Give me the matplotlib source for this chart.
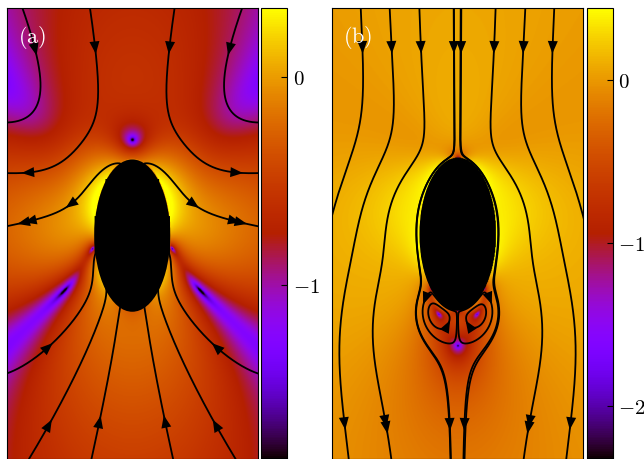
import numpy as np
import matplotlib
matplotlib.use("Agg")
import matplotlib.pyplot as plt
from matplotlib.patches import Ellipse, FancyArrowPatch

plt.rcParams["mathtext.fontset"] = "cm"
plt.rcParams["font.family"] = "serif"
plt.rcParams["font.serif"] = ["DejaVu Serif"]

# body shape
SEMI_AXES = (0.5, 1.0)      # ellipse half-width, half-height

# squirmer parameters per panel: swim speed, mode-2 strength, mode-2 decay, mode-4 strength
SWIM_A, STRESSLET_A, DECAY_A, MODE4_A = 1.0, 2.0, 1.15, 1.1
SWIM_B, STRESSLET_B, DECAY_B, MODE4_B = 1.0, 1.34, 1.2, -1.8
MAG_SCALE_A = 0.75

# panel ranges and colour limits (log10 |u|)
XLIM_A = (-1.65, 1.65)
YLIM_A = (-2.94, 2.99)
XLIM_B = (-1.65, 1.65)
YLIM_B = (-2.95, 2.97)
CLIM_A = (-1.84, 0.33)
CLIM_B = (-2.33, 0.44)
TICKS_A = [0, -1]
TICKS_B = [0, -1, -2]

# streamline seeds, panel (a) (lab frame)
SEED_X_A = [-1.43, -0.55, -0.53, -1.34, -1.60, 1.43, 0.55, 0.53, 1.34, 1.60]
SEED_Y_A = [2.94, 2.94, -2.90, -2.90, -1.79, 2.94, 2.94, -2.90, -2.90, -1.79]
# arrow heads, panel (a)
ARROW_X_A = [-1.17, -0.46, 0.46, 1.20, -1.38, -1.38, -1.37, -0.71,
             1.38, 1.38, 1.37, 0.71, -1.12, -0.45, 0.43, 1.13, -1.25, 1.25]
ARROW_Y_A = [2.45, 2.45, 2.45, 2.45, 0.57, 0.24, -0.21, 0.24,
             0.57, 0.24, -0.21, 0.24, -2.45, -2.42, -2.42, -2.45, -1.28, -1.28]

# streamline seeds, panel (b) (body frame)
SEED_X_B = [-1.27, -0.89, -0.50, -0.05, 0.05, 0.50, 0.89, 1.27,
            -0.43, 0.43, -0.125, 0.14, -0.10, 0.09]
SEED_Y_B = [2.93, 2.93, 2.93, 2.93, 2.93, 2.93, 2.93, 2.93,
            -0.86, -0.86, -1.18, -1.18, -2.51, -2.51]
# arrow heads, panel (b)
ARROW_X_B = [-1.28, -0.89, -0.51, -0.06, 0.06, 0.48, 0.88, 1.27,
             -1.59, -1.16, -0.69, -0.10, 0.09, 0.68, 1.15, 1.57,
             -0.43, 0.43, -0.125, 0.14]
ARROW_Y_B = [2.43] * 8 + [-2.51] * 8 + [-0.86, -0.86, -1.18, -1.18]

# conformal map z = zeta - K2/zeta takes the circle |zeta| = RAD to the ellipse
RAD = 0.5 * (SEMI_AXES[0] + SEMI_AXES[1])
K2 = RAD * 0.5 * (SEMI_AXES[1] - SEMI_AXES[0])


def mode(q, n, amp, p):
    # divergence-free radial/azimuthal profiles, no normal flow at q = 1
    f = amp * (q**p - q**(p + 2))
    g = -amp * ((1 - p) * q**p + (1 + p) * q**(p + 2)) / n
    return f, g


def velocity(x, y, body_frame, params):
    swim, stress, decay, m4 = params
    z = np.asarray(x + 1j * y, dtype=complex)
    root = np.sqrt(z * z + 4 * K2)
    z1 = 0.5 * (z + root)
    z2 = 0.5 * (z - root)
    zeta = np.where(np.abs(z1) >= np.abs(z2), z1, z2)
    r = np.maximum(np.abs(zeta), 1e-9)
    th = np.arctan2(zeta.real, zeta.imag)
    q = RAD / r
    f2, g2 = mode(q, 2, -stress, decay)
    f4, g4 = mode(q, 4, m4, 3.0)
    ur = swim * q**2 * np.cos(th) + f2 * np.cos(2 * th) + f4 * np.cos(4 * th)
    ut = swim * q**2 * np.sin(th) + g2 * np.sin(2 * th) + g4 * np.sin(4 * th)
    s, c = np.sin(th), np.cos(th)
    vx = ur * s + ut * c
    vy = ur * c - ut * s
    if body_frame:
        vy = vy - swim
    w = (1 + K2 / zeta**2) * (vx + 1j * vy)
    inside = r < RAD
    if body_frame:
        w = np.where(inside, 0.0, w)
    else:
        w = np.where(inside, 1j * swim, w)
    return w.real, w.imag


def trace(x0, y0, body_frame, params, xlim, ylim, ds=0.006, nmax=2500):
    def step_dir(x, y):
        u, v = velocity(x, y, body_frame, params)
        n = np.hypot(u, v)
        if n < 1e-7:
            return None
        return u / n, v / n

    def run(sign):
        pts = [(x0, y0)]
        x, y = x0, y0
        prev = None
        length = 0.0
        for _ in range(nmax):
            k1 = step_dir(x, y)
            if k1 is None:
                break
            k2 = step_dir(x + sign * 0.5 * ds * k1[0], y + sign * 0.5 * ds * k1[1])
            if k2 is None:
                break
            k3 = step_dir(x + sign * 0.5 * ds * k2[0], y + sign * 0.5 * ds * k2[1])
            if k3 is None:
                break
            k4 = step_dir(x + sign * ds * k3[0], y + sign * ds * k3[1])
            if k4 is None:
                break
            dx = (k1[0] + 2 * k2[0] + 2 * k3[0] + k4[0]) / 6
            dy = (k1[1] + 2 * k2[1] + 2 * k3[1] + k4[1]) / 6
            if prev is not None and dx * prev[0] + dy * prev[1] < -0.3:
                break
            prev = (dx, dy)
            x += sign * ds * dx
            y += sign * ds * dy
            length += ds
            pts.append((x, y))
            if not (xlim[0] - 0.05 < x < xlim[1] + 0.05 and ylim[0] - 0.05 < y < ylim[1] + 0.05):
                break
            if body_frame and (x / SEMI_AXES[0]) ** 2 + (y / SEMI_AXES[1]) ** 2 < 1:
                break
            if length > 0.3 and np.hypot(x - x0, y - y0) < 1.5 * ds:
                pts.append((x0, y0))
                return pts, True
        return pts, False

    fwd, closed = run(1)
    if closed:
        return np.array(fwd)
    bwd, _ = run(-1)
    return np.array(bwd[::-1] + fwd[1:])


def draw_panel(ax, cax, body_frame, params, xlim, ylim, clim, ticks, seeds, arrows, label, scale):
    gx = np.linspace(xlim[0], xlim[1], 420)
    gy = np.linspace(ylim[0], ylim[1], 760)
    GX, GY = np.meshgrid(gx, gy)
    U, V = velocity(GX, GY, body_frame, params)
    mag = np.log10(scale * np.hypot(U, V) + 1e-6)
    im = ax.imshow(mag, origin="lower", extent=(xlim[0], xlim[1], ylim[0], ylim[1]),
                   cmap="gnuplot", vmin=clim[0], vmax=clim[1], aspect="auto",
                   interpolation="bilinear", zorder=0)

    lines = []
    for sx, sy in zip(*seeds):
        pts = trace(sx, sy, body_frame, params, xlim, ylim)
        lines.append(pts)
        ax.plot(pts[:, 0], pts[:, 1], color="black", lw=1.3, zorder=2)

    ax.add_patch(Ellipse((0, 0), 2 * SEMI_AXES[0], 2 * SEMI_AXES[1],
                         facecolor="black", edgecolor="none", zorder=3))

    for axx, ayy in zip(*arrows):
        best = None
        for pts in lines:
            d = np.hypot(pts[:, 0] - axx, pts[:, 1] - ayy)
            i = int(np.argmin(d))
            if best is None or d[i] < best[0]:
                best = (d[i], pts, i)
        _, pts, i = best
        i0, i1 = max(i - 2, 0), min(i + 2, len(pts) - 1)
        d = pts[i1] - pts[i0]
        d = d / np.hypot(*d)
        p = pts[i]
        arr = FancyArrowPatch(p - 0.06 * d, p + 0.06 * d,
                              arrowstyle="-|>,head_length=0.75,head_width=0.3",
                              mutation_scale=12, color="black", lw=0,
                              shrinkA=0, shrinkB=0, zorder=4)
        ax.add_patch(arr)

    ax.set_xlim(xlim)
    ax.set_ylim(ylim)
    ax.set_xticks([])
    ax.set_yticks([])
    for sp in ax.spines.values():
        sp.set_linewidth(0.8)
    ax.text(0.045, 0.925, r"$\mathrm{(" + label + ")}$", transform=ax.transAxes,
            color="white", fontsize=16, zorder=5)

    cb = plt.colorbar(im, cax=cax)
    cb.set_ticks(ticks)
    cb.set_ticklabels([r"$%d$" % t for t in ticks])
    cb.ax.tick_params(direction="in", length=4, width=0.8, labelsize=15, pad=4)
    cb.outline.set_linewidth(0.8)


fig = plt.figure(figsize=(6.44, 4.6), dpi=100)
ax_a = fig.add_axes([0.0109, -0.001, 0.389, 0.9815])
cax_a = fig.add_axes([0.4053, -0.001, 0.0404, 0.9815])
ax_b = fig.add_axes([0.5155, -0.001, 0.3898, 0.9815])
cax_b = fig.add_axes([0.9115, -0.001, 0.0396, 0.9815])

draw_panel(ax_a, cax_a, False, (SWIM_A, STRESSLET_A, DECAY_A, MODE4_A),
           XLIM_A, YLIM_A, CLIM_A, TICKS_A,
           (SEED_X_A, SEED_Y_A), (ARROW_X_A, ARROW_Y_A), "a", MAG_SCALE_A)
draw_panel(ax_b, cax_b, True, (SWIM_B, STRESSLET_B, DECAY_B, MODE4_B),
           XLIM_B, YLIM_B, CLIM_B, TICKS_B,
           (SEED_X_B, SEED_Y_B), (ARROW_X_B, ARROW_Y_B), "b", 1.0)

fig.savefig("out.png", dpi=100)
